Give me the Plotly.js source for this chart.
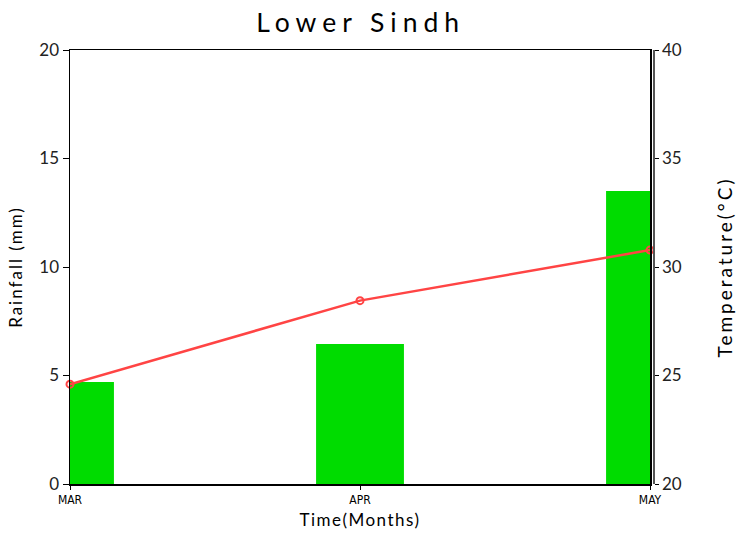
<!DOCTYPE html>
<html><head><meta charset="utf-8">
<script src="https://cdn.plot.ly/plotly-3.0.1.min.js"></script>
<style>
html,body{margin:0;padding:0;background:#fff}#c{width:736px;height:533px}
.gtitle{letter-spacing:6px}
.ytitle{letter-spacing:2px}
.y2title{letter-spacing:3px}
.xtitle{letter-spacing:1.5px}
</style>
</head><body><div id="c"></div>
<script>
const months = ["MAR", "APR", "MAY"];
const rainfall = [4.7, 6.45, 13.5];
const temperature = [24.6, 28.45, 30.78];
const xpos = [0, 1, 2];

const font = "Lato, 'Open Sans', sans-serif";
const traces = [
  {type: 'bar', x: xpos, y: rainfall, width: 0.303, marker: {color: '#00dc00', line: {width: 0}}, yaxis: 'y', hoverinfo: 'skip'},
  {type: 'scatter', mode: 'lines+markers', x: xpos, y: temperature, yaxis: 'y2',
   line: {color: '#ff4444', width: 2.5},
   marker: {symbol: 'circle-open', size: 7, color: '#ff4444', line: {width: 2, color: '#ff4444'}},
   cliponaxis: false}
];
const layout = {
  width: 736, height: 533,
  margin: {l: 70, r: 83, t: 50, b: 49},
  paper_bgcolor: '#fff', plot_bgcolor: '#fff',
  showlegend: false,
  title: {text: 'Lower Sindh', font: {family: font, size: 26.5, color: '#000'}, x: 0.49, xanchor: 'center', y: 0.958, yanchor: 'middle'},
  xaxis: {
    domain: [0, 580/583], range: [0, 2], tickvals: xpos, ticktext: months,
    showline: true, linecolor: '#000', linewidth: 1.5, mirror: true,
    ticks: 'outside', ticklen: 4, tickcolor: '#000', showgrid: false, zeroline: false,
    tickfont: {family: "'Liberation Sans Narrow', 'DejaVu Sans Condensed', sans-serif", size: 12, color: '#000'},
    title: {text: 'Time(Months)', font: {family: font, size: 17, color: '#000'}, standoff: 8}
  },
  yaxis: {
    range: [0, 20], tickvals: [0, 5, 10, 15, 20],
    showline: true, linecolor: '#000', linewidth: 1.5, mirror: true,
    ticks: 'outside', ticklen: 6, tickcolor: '#000', showgrid: false, zeroline: false,
    tickfont: {family: font, size: 17, color: '#222'},
    title: {text: 'Rainfall (mm)', font: {family: font, size: 17, color: '#000'}, standoff: 12}
  },
  yaxis2: {
    range: [20, 40], tickvals: [20, 25, 30, 35, 40], overlaying: 'y', side: 'right',
    anchor: 'free', position: 1,
    showline: true, linecolor: '#555', linewidth: 1.5,
    ticks: 'outside', ticklen: 4, tickcolor: '#000', showgrid: false, zeroline: false,
    tickfont: {family: font, size: 17, color: '#222'},
    title: {text: 'Temperature(°C)', font: {family: font, size: 19, color: '#000'}, standoff: 38}
  }
};
Plotly.newPlot('c', traces, layout, {displayModeBar: false, staticPlot: true});
</script></body></html>
